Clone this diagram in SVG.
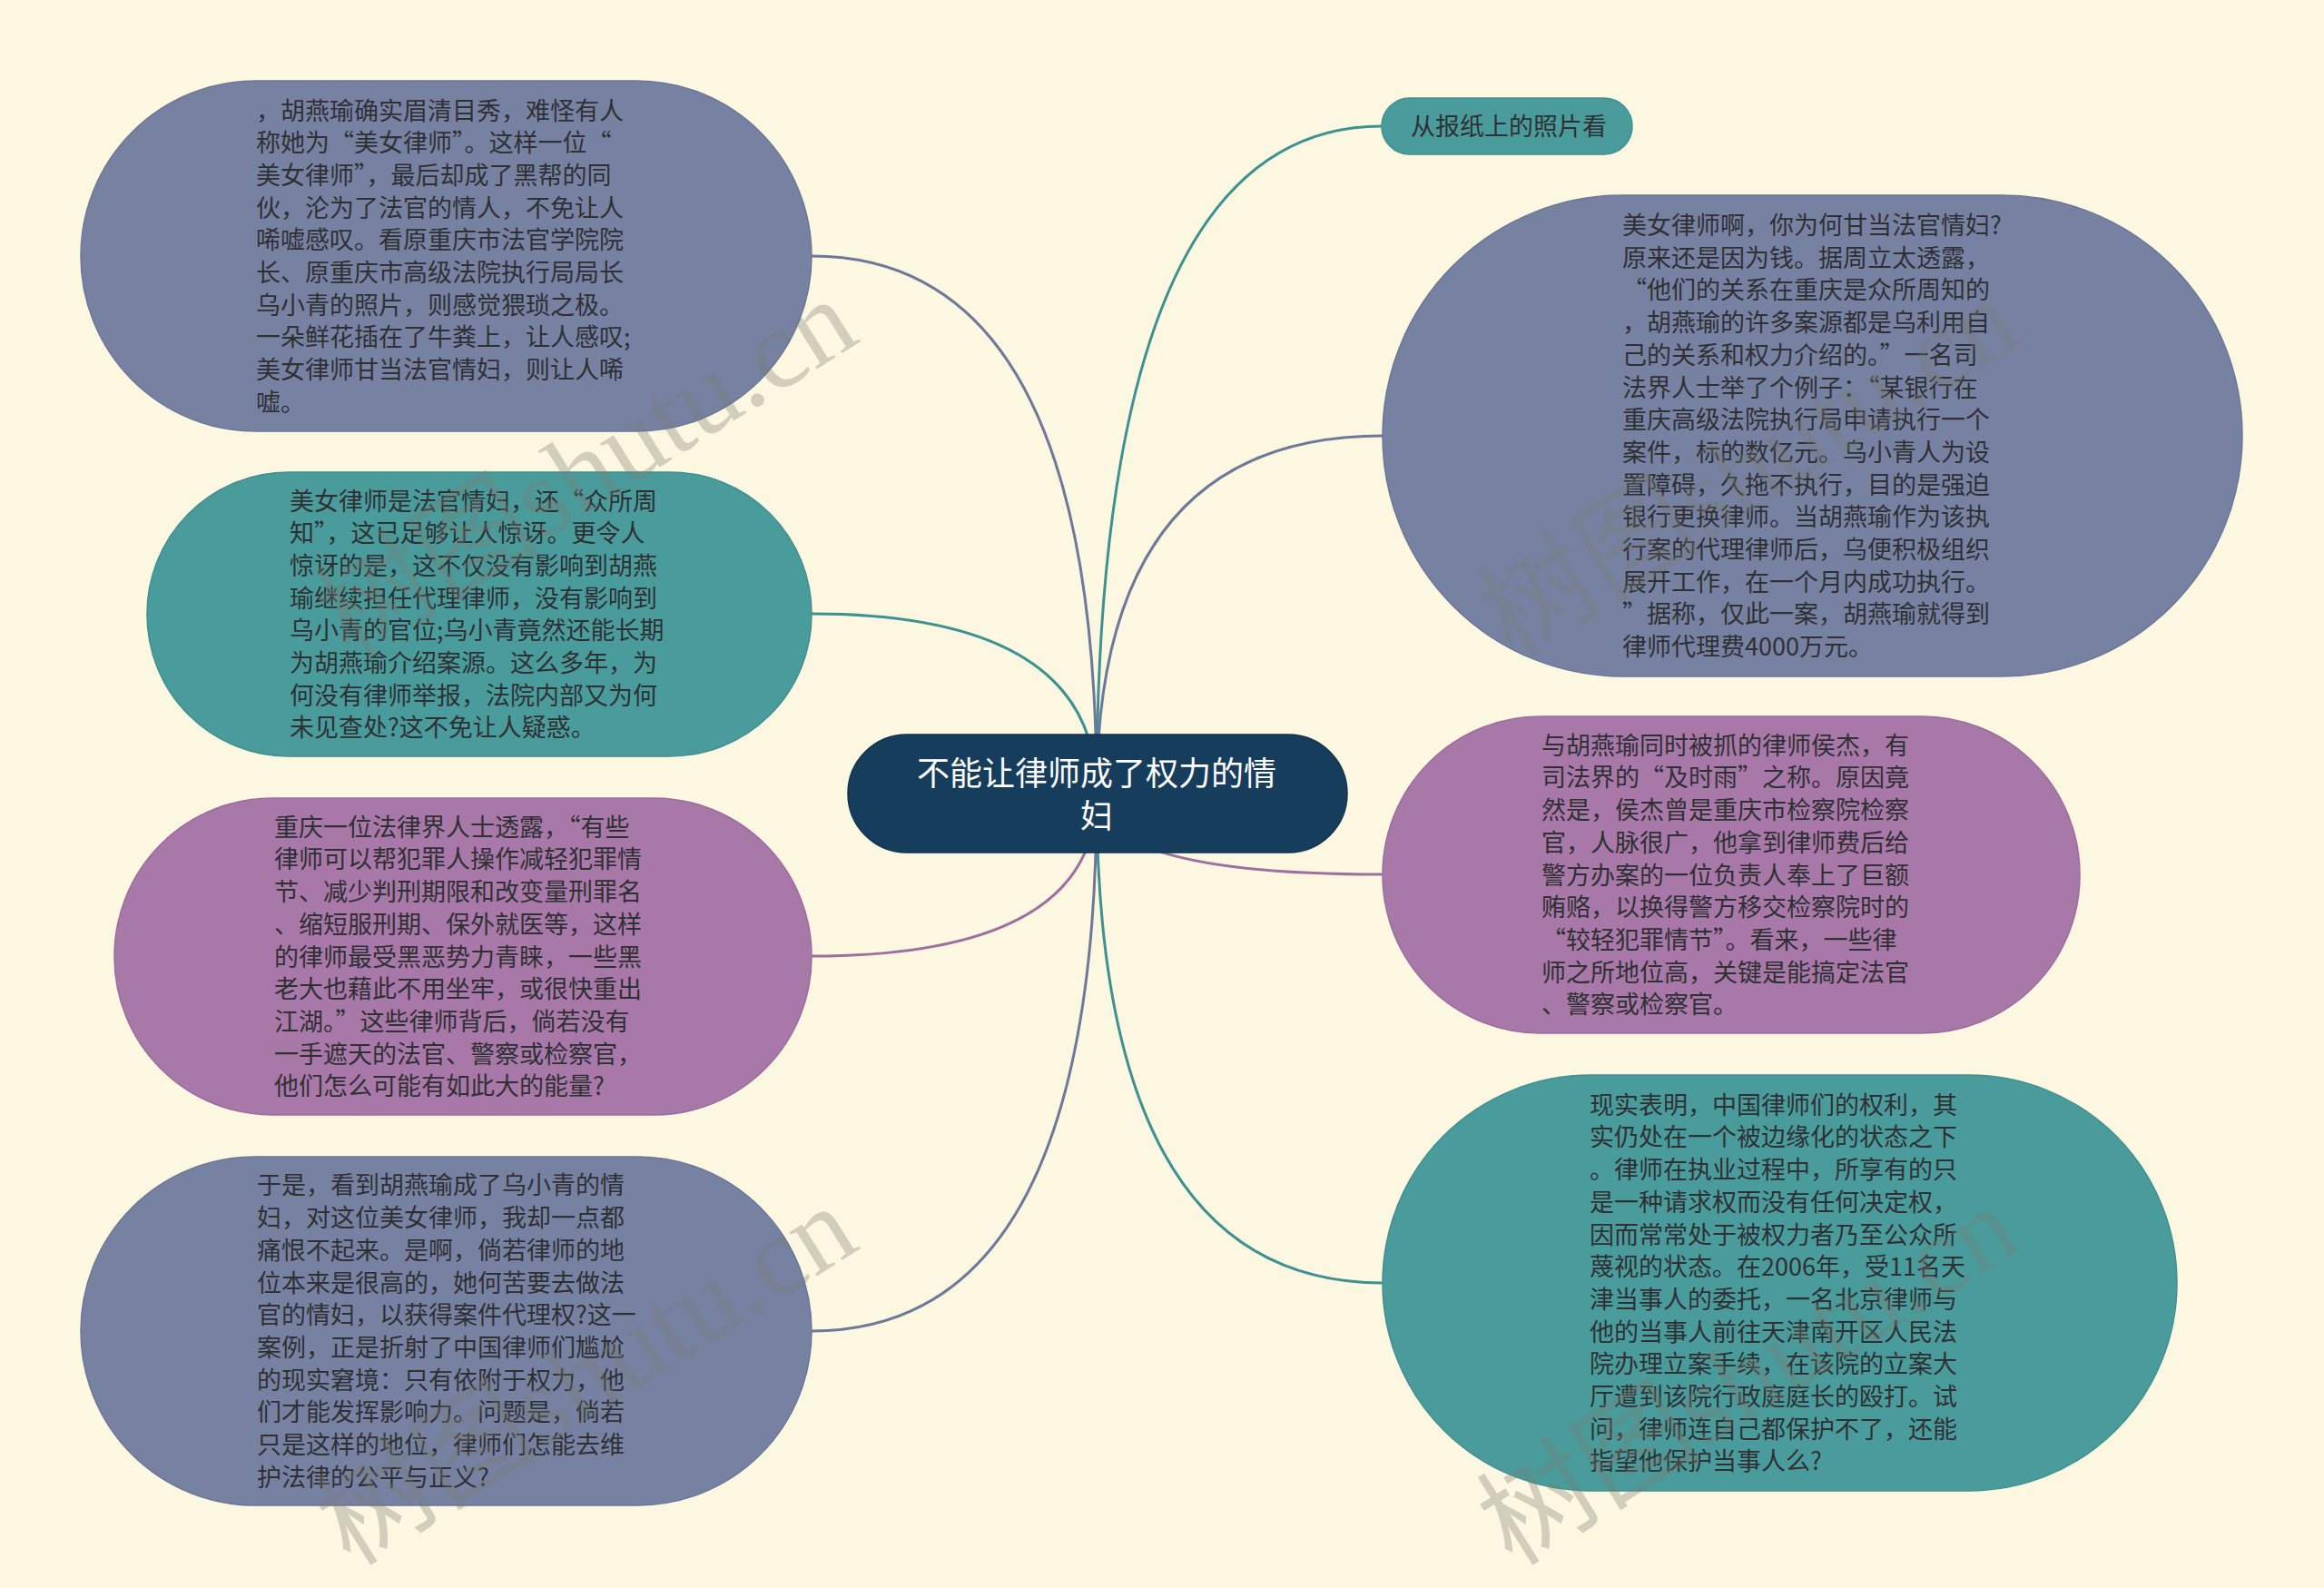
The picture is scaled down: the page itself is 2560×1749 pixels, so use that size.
<svg xmlns="http://www.w3.org/2000/svg" width="2560" height="1749" viewBox="0 0 2560 1749">
<style>
.bg{fill:#fbf7e1}
.blue{fill:#7782a3;stroke:#6c7797;stroke-width:1.5}
.teal{fill:#4a9c9c;stroke:#418f8f;stroke-width:1.5}
.purple{fill:#a878a8;stroke:#9c6d9c;stroke-width:1.5}
.root{fill:#173d5c;stroke:#12324d;stroke-width:1.5}
.t{font-family:"Noto Sans CJK SC","Microsoft YaHei",sans-serif;font-size:27px;fill:#2f3033}
.q{font-feature-settings:"fwid" 1}
.rt{font-family:"Noto Sans CJK SC","Microsoft YaHei",sans-serif;font-size:36px;fill:#ffffff;text-anchor:middle}
.c{fill:none;stroke-width:3}
.cb{stroke:#6e7899}
.ct{stroke:#3f9191}
.cp{stroke:#9d70a0}
.wm{font-family:"Liberation Serif","Noto Sans CJK SC",serif;font-size:124px;fill:#7a7a70;fill-opacity:0.32;text-anchor:middle;dominant-baseline:central}
</style>
<rect class="bg" x="0" y="0" width="2560" height="1749"/>
<g id="connectors">
<path class="c cb" d="M1208 874 Q1208 282 894 282"/>
<path class="c ct" d="M1208 874 Q1208 676 894 676"/>
<path class="c cp" d="M1208 874 Q1208 1053 894 1053"/>
<path class="c cb" d="M1208 874 Q1208 1466 894 1466"/>
<path class="c ct" d="M1208 874 Q1208 139 1522 139"/>
<path class="c cb" d="M1208 874 Q1208 480 1523 480"/>
<path class="c cp" d="M1208 874 Q1208 963 1523 963"/>
<path class="c ct" d="M1208 874 Q1208 1413 1523 1413"/>
</g>
<g id="root">
<rect class="root" x="934" y="809" width="550" height="130" rx="65"/>
<text class="rt"><tspan x="1208" y="865">不能让律师成了权力的情</tspan><tspan x="1208" y="912">妇</tspan></text>
</g>
<g id="node-l1">
<rect class="blue" x="89" y="89" width="805" height="386" rx="193"/>
<text class="t"><tspan x="282" y="131.5">，胡燕瑜确实眉清目秀，难怪有人</tspan><tspan x="282" dy="35.7">称她为<tspan class="q">“</tspan>美女律师<tspan class="q">”</tspan>。这样一位<tspan class="q">“</tspan></tspan><tspan x="282" dy="35.7">美女律师<tspan class="q">”</tspan>，最后却成了黑帮的同</tspan><tspan x="282" dy="35.7">伙，沦为了法官的情人，不免让人</tspan><tspan x="282" dy="35.7">唏嘘感叹。看原重庆市法官学院院</tspan><tspan x="282" dy="35.7">长、原重庆市高级法院执行局局长</tspan><tspan x="282" dy="35.7">乌小青的照片，则感觉猥琐之极。</tspan><tspan x="282" dy="35.7">一朵鲜花插在了牛粪上，让人感叹;</tspan><tspan x="282" dy="35.7">美女律师甘当法官情妇，则让人唏</tspan><tspan x="282" dy="35.7">嘘。</tspan></text>
</g>
<g id="node-l2">
<rect class="teal" x="162" y="520" width="732" height="313" rx="156"/>
<text class="t"><tspan x="319" y="561.5">美女律师是法官情妇，还<tspan class="q">“</tspan>众所周</tspan><tspan x="319" dy="35.7">知<tspan class="q">”</tspan>，这已足够让人惊讶。更令人</tspan><tspan x="319" dy="35.7">惊讶的是，这不仅没有影响到胡燕</tspan><tspan x="319" dy="35.7">瑜继续担任代理律师，没有影响到</tspan><tspan x="319" dy="35.7">乌小青的官位;乌小青竟然还能长期</tspan><tspan x="319" dy="35.7">为胡燕瑜介绍案源。这么多年，为</tspan><tspan x="319" dy="35.7">何没有律师举报，法院内部又为何</tspan><tspan x="319" dy="35.7">未见查处?这不免让人疑惑。</tspan></text>
</g>
<g id="node-l3">
<rect class="purple" x="126" y="879" width="768" height="349" rx="174"/>
<text class="t"><tspan x="302" y="920.7">重庆一位法律界人士透露，<tspan class="q">“</tspan>有些</tspan><tspan x="302" dy="35.7">律师可以帮犯罪人操作减轻犯罪情</tspan><tspan x="302" dy="35.7">节、减少判刑期限和改变量刑罪名</tspan><tspan x="302" dy="35.7">、缩短服刑期、保外就医等，这样</tspan><tspan x="302" dy="35.7">的律师最受黑恶势力青睐，一些黑</tspan><tspan x="302" dy="35.7">老大也藉此不用坐牢，或很快重出</tspan><tspan x="302" dy="35.7">江湖。<tspan class="q">”</tspan>这些律师背后，倘若没有</tspan><tspan x="302" dy="35.7">一手遮天的法官、警察或检察官，</tspan><tspan x="302" dy="35.7">他们怎么可能有如此大的能量?</tspan></text>
</g>
<g id="node-l4">
<rect class="blue" x="89" y="1274" width="805" height="384" rx="192"/>
<text class="t"><tspan x="283" y="1315.4">于是，看到胡燕瑜成了乌小青的情</tspan><tspan x="283" dy="35.7">妇，对这位美女律师，我却一点都</tspan><tspan x="283" dy="35.7">痛恨不起来。是啊，倘若律师的地</tspan><tspan x="283" dy="35.7">位本来是很高的，她何苦要去做法</tspan><tspan x="283" dy="35.7">官的情妇，以获得案件代理权?这一</tspan><tspan x="283" dy="35.7">案例，正是折射了中国律师们尴尬</tspan><tspan x="283" dy="35.7">的现实窘境：只有依附于权力，他</tspan><tspan x="283" dy="35.7">们才能发挥影响力。问题是，倘若</tspan><tspan x="283" dy="35.7">只是这样的地位，律师们怎能去维</tspan><tspan x="283" dy="35.7">护法律的公平与正义?</tspan></text>
</g>
<g id="node-r0">
<rect class="teal" x="1522" y="108" width="276" height="62" rx="31"/>
<text class="t"><tspan x="1554" y="149">从报纸上的照片看</tspan></text>
</g>
<g id="node-r1">
<rect class="blue" x="1523" y="215" width="947" height="530" rx="265"/>
<text class="t"><tspan x="1787" y="258">美女律师啊，你为何甘当法官情妇?</tspan><tspan x="1787" dy="35.7">原来还是因为钱。据周立太透露，</tspan><tspan x="1787" dy="35.7"><tspan class="q">“</tspan>他们的关系在重庆是众所周知的</tspan><tspan x="1787" dy="35.7">，胡燕瑜的许多案源都是乌利用自</tspan><tspan x="1787" dy="35.7">己的关系和权力介绍的。<tspan class="q">”</tspan>一名司</tspan><tspan x="1787" dy="35.7">法界人士举了个例子：<tspan class="q">“</tspan>某银行在</tspan><tspan x="1787" dy="35.7">重庆高级法院执行局申请执行一个</tspan><tspan x="1787" dy="35.7">案件，标的数亿元。乌小青人为设</tspan><tspan x="1787" dy="35.7">置障碍，久拖不执行，目的是强迫</tspan><tspan x="1787" dy="35.7">银行更换律师。当胡燕瑜作为该执</tspan><tspan x="1787" dy="35.7">行案的代理律师后，乌便积极组织</tspan><tspan x="1787" dy="35.7">展开工作，在一个月内成功执行。</tspan><tspan x="1787" dy="35.7"><tspan class="q">”</tspan>据称，仅此一案，胡燕瑜就得到</tspan><tspan x="1787" dy="35.7">律师代理费4000万元。</tspan></text>
</g>
<g id="node-r2">
<rect class="purple" x="1523" y="789" width="768" height="349" rx="174"/>
<text class="t"><tspan x="1698" y="830.7">与胡燕瑜同时被抓的律师侯杰，有</tspan><tspan x="1698" dy="35.7">司法界的<tspan class="q">“</tspan>及时雨<tspan class="q">”</tspan>之称。原因竟</tspan><tspan x="1698" dy="35.7">然是，侯杰曾是重庆市检察院检察</tspan><tspan x="1698" dy="35.7">官，人脉很广，他拿到律师费后给</tspan><tspan x="1698" dy="35.7">警方办案的一位负责人奉上了巨额</tspan><tspan x="1698" dy="35.7">贿赂，以换得警方移交检察院时的</tspan><tspan x="1698" dy="35.7"><tspan class="q">“</tspan>较轻犯罪情节<tspan class="q">”</tspan>。看来，一些律</tspan><tspan x="1698" dy="35.7">师之所地位高，关键是能搞定法官</tspan><tspan x="1698" dy="35.7">、警察或检察官。</tspan></text>
</g>
<g id="node-r3">
<rect class="teal" x="1523" y="1184" width="875" height="458" rx="229"/>
<text class="t"><tspan x="1751" y="1226.7">现实表明，中国律师们的权利，其</tspan><tspan x="1751" dy="35.7">实仍处在一个被边缘化的状态之下</tspan><tspan x="1751" dy="35.7">。律师在执业过程中，所享有的只</tspan><tspan x="1751" dy="35.7">是一种请求权而没有任何决定权，</tspan><tspan x="1751" dy="35.7">因而常常处于被权力者乃至公众所</tspan><tspan x="1751" dy="35.7">蔑视的状态。在2006年，受11名天</tspan><tspan x="1751" dy="35.7">津当事人的委托，一名北京律师与</tspan><tspan x="1751" dy="35.7">他的当事人前往天津南开区人民法</tspan><tspan x="1751" dy="35.7">院办理立案手续，在该院的立案大</tspan><tspan x="1751" dy="35.7">厅遭到该院行政庭庭长的殴打。试</tspan><tspan x="1751" dy="35.7">问，律师连自己都保护不了，还能</tspan><tspan x="1751" dy="35.7">指望他保护当事人么?</tspan></text>
</g>
<g id="watermarks">
<text class="wm" transform="translate(646 516) rotate(-32)">树图shutu.cn</text>
<text class="wm" transform="translate(1926 516) rotate(-32)">树图shutu.cn</text>
<text class="wm" transform="translate(646 1515) rotate(-32)">树图shutu.cn</text>
<text class="wm" transform="translate(1926 1515) rotate(-32)">树图shutu.cn</text>
</g>
</svg>
